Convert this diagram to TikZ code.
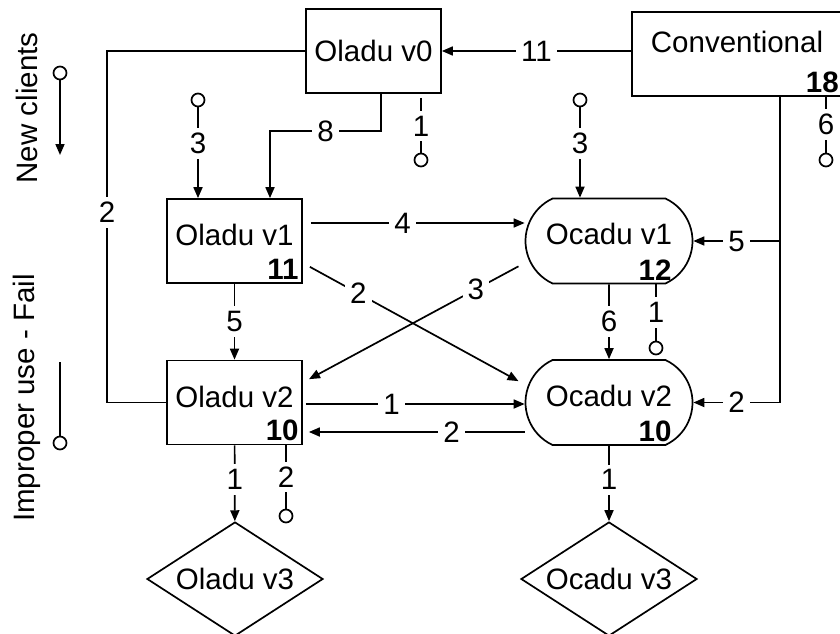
\documentclass[tikz,border=0pt]{standalone}
\usepackage{fontspec}
\setmainfont{Liberation Sans}
\usetikzlibrary{arrows.meta,shapes.geometric,shapes.misc}

\tikzset{
  wire/.style={line width=1.7pt},
  arr/.style={wire, -{Triangle[length=11pt,width=9pt]}},
  num/.style={fill=white, inner sep=5pt},
  box/.style={draw, line width=1.7pt, rectangle, minimum width=135pt, minimum height=84pt, text depth=12pt, inner sep=0pt},
  capsule/.style={draw, line width=1.7pt, rounded rectangle, rounded rectangle arc length=130, minimum width=167pt, minimum height=85pt, text depth=14pt, inner sep=0pt},
  gem/.style={draw, line width=1.7pt, diamond, aspect=1.5, minimum width=176pt, minimum height=114pt, inner sep=0pt},
  endc/.style={draw, line width=1.7pt, circle, minimum size=13pt, inner sep=0pt},
  tally/.style={anchor=south east, inner sep=4pt}
}

\begin{document}
\begin{tikzpicture}[x=1pt, y=-1pt, font=\fontsize{29.5}{35}\selectfont]
  \useasboundingbox (0,0) rectangle (840,634);

  \node[box, text depth=0pt] (olv0) at (373.5,51) {Oladu v0};
  \node[box, minimum width=210pt, text depth=25pt, label={[tally]south east:\textbf{18}}] (conv) at (737,54) {Conventional};
  \node[box, label={[tally]south east:\textbf{11}}] (olv1) at (234.5,241) {Oladu v1};
  \node[box, label={[tally]south east:\textbf{10}}] (olv2) at (234.5,402.5) {Oladu v2};
  \node[capsule, label={[tally, xshift=10pt]south east:\textbf{12}}] (ocv1) at (609,241) {Ocadu v1};
  \node[capsule, label={[tally, xshift=10pt]south east:\textbf{10}}] (ocv2) at (609,402.5) {Ocadu v2};
  \node[gem] (olv3) at (235,579) {Oladu v3};
  \node[gem] (ocv3) at (609,579) {Ocadu v3};

  \node[endc] (in1) at (198,100) {};
  \node[endc] (in2) at (580,100) {};
  \node[endc] (out0) at (421,160) {};
  \node[endc] (out6) at (826,160) {};
  \node[endc] (out1) at (656,348) {};
  \node[endc] (out2) at (286,516) {};

  \draw[arr] (conv.west |- olv0.east) -- node[num]{11} (olv0.east);
  \draw[wire] (olv0.west) -| node[num, pos=0.73]{2} ([xshift=-59pt]olv2.west) -- (olv2.west);
  \draw[arr] ([xshift=7.5pt]olv0.south) -- ++(0,37) -| node[num, pos=0.25]{8} ([xshift=35.5pt]olv1.north);
  \draw[wire, shorten <=4pt] ([xshift=47.5pt]olv0.south) -- node[num, pos=0.55]{1} (out0);
  \draw[wire] (out6 |- conv.south) -- node[num]{6} (out6);

  \draw[arr] (in1) -- node[num, pos=0.4]{3} (in1 |- olv1.north);
  \draw[arr] (in2) -- node[num, pos=0.4]{3} (in2 |- ocv1.north);

  \coordinate (tap) at ([xshift=43pt]conv.south);
  \draw[arr] (tap) |- node[num, pos=0.75]{2} (ocv2.east);
  \draw[arr] (tap |- ocv1.east) -- node[num]{5} (ocv1.east);

  \draw[arr, shorten <=8pt] ([yshift=18pt]olv1.east) -- node[num, pos=0.45]{4} ([yshift=18pt]ocv1.west);
  \draw[arr, shorten <=8pt, shorten >=7pt] ([yshift=-22pt]olv1.east) -- node[num, pos=0.25]{2} ([yshift=18pt]ocv2.west);
  \draw[arr, shorten <=7pt, shorten >=7pt] ([yshift=-22pt]ocv1.west) -- node[num, pos=0.22]{3} ([yshift=20pt]olv2.east);
  \draw[arr] (olv1) -- node[num]{5} (olv2);
  \draw[arr] (ocv1) -- node[num]{6} (ocv2);
  \draw[wire] (out1 |- ocv1.south) -- node[num]{1} (out1);

  \draw[arr, shorten <=3pt] ([yshift=-1.5pt]olv2.east) -- node[num, pos=0.4]{1} ([yshift=-1.5pt]ocv2.west);
  \draw[arr, shorten >=6pt] ([yshift=-29.5pt]ocv2.west) -- node[num, pos=0.33]{2} ([yshift=-29.5pt]olv2.east);

  \draw[arr] (olv2) -- node[num, pos=0.45]{1} (olv3);
  \draw[wire] (out2 |- olv2.south) -- node[num]{2} (out2);
  \draw[arr] (ocv2) -- node[num, pos=0.45]{1} (ocv3);

  % legend on the left
  \node[rotate=90] (newcl) at (27,108) {New clients};
  \node[endc] (lg1) at (60,73) {};
  \coordinate (lg1end) at (60,155);
  \draw[arr] (lg1) -- (lg1end);
  \node[rotate=90] (fail) at (27,398) {Improper use - Fail};
  \node[endc] (lg2) at (60,443) {};
  \coordinate (lg2top) at (60,362);
  \draw[wire] (lg2top) -- (lg2);
\end{tikzpicture}
\end{document}
